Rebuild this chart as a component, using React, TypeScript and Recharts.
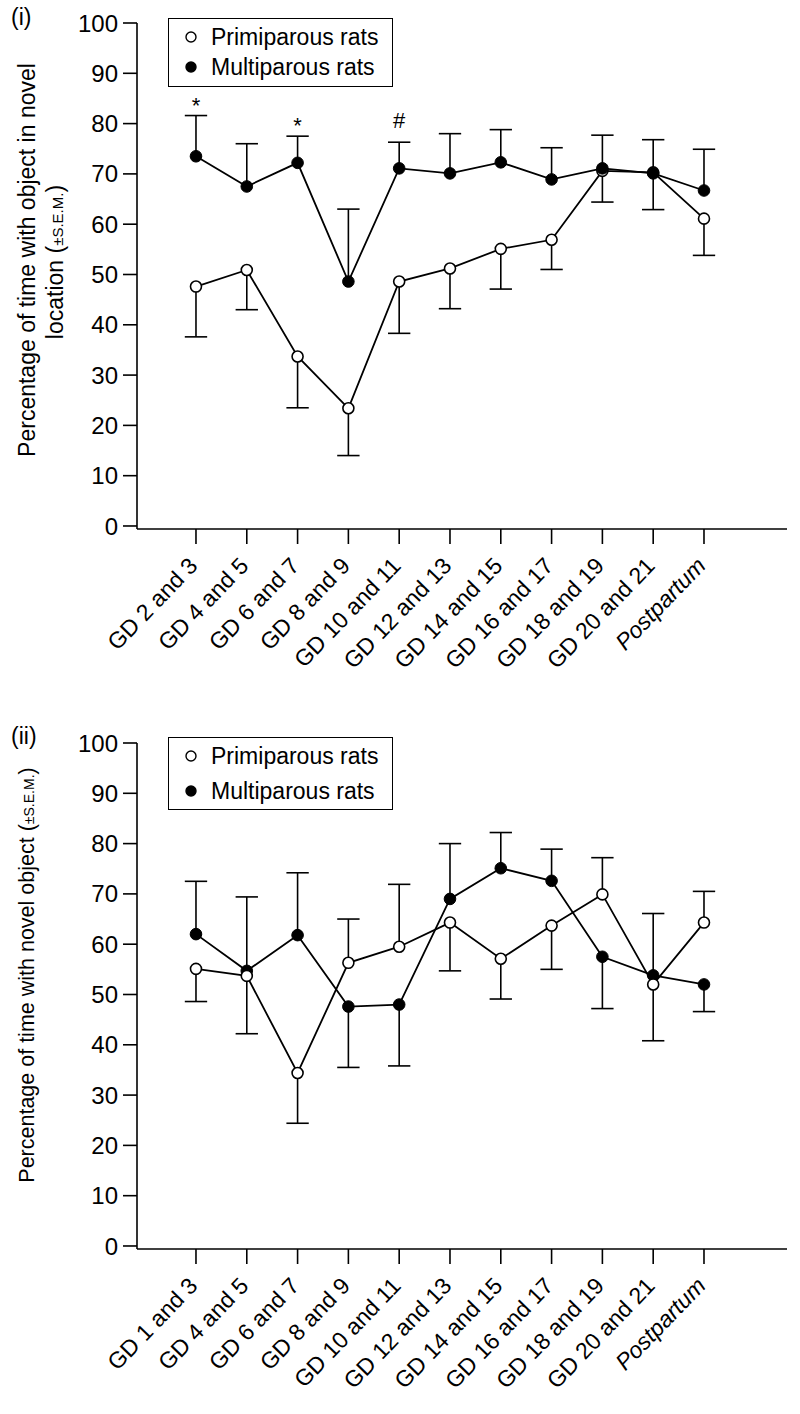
import React from "react";
import { LineChart, Line, XAxis, YAxis, ReferenceLine, ReferenceDot } from "recharts";

const FONT = '"Liberation Sans", Arial, Helvetica, sans-serif';

// panel (i): object in novel location
const TOP_LABELS = [
  "GD 2 and 3", "GD 4 and 5", "GD 6 and 7", "GD 8 and 9", "GD 10 and 11", "GD 12 and 13",
  "GD 14 and 15", "GD 16 and 17", "GD 18 and 19", "GD 20 and 21", "Postpartum",
];
const TOP_PRIMI = [47.6, 50.9, 33.7, 23.4, 48.6, 51.2, 55.1, 56.9, 70.6, 70.3, 61.1];
const TOP_PRIMI_TIP = [37.6, 43.0, 23.5, 14.0, 38.3, 43.2, 47.1, 51.0, 64.4, 62.9, 53.8];
const TOP_MULTI = [73.5, 67.5, 72.2, 48.6, 71.1, 70.1, 72.3, 68.9, 71.1, 70.1, 66.7];
const TOP_MULTI_TIP = [81.6, 76.0, 77.5, 63.0, 76.3, 78.0, 78.8, 75.2, 77.7, 76.8, 74.9];
const TOP_MARKS = ["*", "", "*", "", "#", "", "", "", "", "", ""];

// panel (ii): novel object
const BOTTOM_LABELS = [
  "GD 1 and 3", "GD 4 and 5", "GD 6 and 7", "GD 8 and 9", "GD 10 and 11", "GD 12 and 13",
  "GD 14 and 15", "GD 16 and 17", "GD 18 and 19", "GD 20 and 21", "Postpartum",
];
const BOTTOM_PRIMI = [55.1, 53.7, 34.4, 56.3, 59.5, 64.3, 57.1, 63.7, 69.9, 52.0, 64.3];
const BOTTOM_PRIMI_TIP = [48.6, 42.2, 24.4, 65.0, 71.9, 54.7, 49.1, 55.0, 77.2, 40.8, 70.5];
const BOTTOM_MULTI = [62.0, 54.7, 61.8, 47.6, 48.0, 69.0, 75.1, 72.6, 57.5, 53.8, 52.0];
const BOTTOM_MULTI_TIP = [72.5, 69.4, 74.2, 35.5, 35.8, 80.0, 82.2, 78.9, 47.2, 66.1, 46.6];
const BOTTOM_MARKS = ["", "", "", "", "", "", "", "", "", "", ""];

const Y_TICKS = [0, 10, 20, 30, 40, 50, 60, 70, 80, 90, 100];
const X_TICKS = [0, 1, 2, 3, 4, 5, 6, 7, 8, 9, 10];

const CAP = 0.22;

const OpenDot = (props: any) => {
  const { cx, cy, index } = props;
  if (cx == null || cy == null) return null;
  return <circle key={`o${index}`} cx={cx} cy={cy} r={5.5} fill="#fff" stroke="#000" strokeWidth={1.6} />;
};

const FilledDot = (props: any) => {
  const { cx, cy, index } = props;
  if (cx == null || cy == null) return null;
  return <circle key={`f${index}`} cx={cx} cy={cy} r={5.8} fill="#000" stroke="#000" strokeWidth={1} />;
};

function makeXTick(labels: string[]) {
  return (props: any) => {
    const { x, y, payload } = props;
    const text = labels[payload.value];
    return (
      <text
        transform={`translate(${x + 3},${y + 21}) rotate(-46)`}
        textAnchor="end"
        fontSize={23}
        fontFamily={FONT}
        fontStyle={text === "Postpartum" ? "italic" : "normal"}
        fill="#000"
      >
        {text}
      </text>
    );
  };
}

function errorBars(vals: number[], tips: number[], prefix: string) {
  const out: React.ReactNode[] = [];
  vals.forEach((v, i) => {
    out.push(
      <ReferenceLine
        key={`${prefix}v${i}`}
        segment={[{ x: i, y: v }, { x: i, y: tips[i] }]}
        stroke="#000"
        strokeWidth={1.6}
        ifOverflow="visible"
      />
    );
    out.push(
      <ReferenceLine
        key={`${prefix}c${i}`}
        segment={[{ x: i - CAP, y: tips[i] }, { x: i + CAP, y: tips[i] }]}
        stroke="#000"
        strokeWidth={1.6}
        ifOverflow="visible"
      />
    );
  });
  return out;
}

type PanelProps = {
  tag: string;
  labels: string[];
  primi: number[];
  primiTip: number[];
  multi: number[];
  multiTip: number[];
  marks: string[];
  openOnTop: boolean;
  title: React.ReactNode;
  legend: { top: number; height: number; gap: number };
};

function Panel({ tag, labels, primi, primiTip, multi, multiTip, marks, openOnTop, title, legend }: PanelProps) {
  const rows = primi.map((p, i) => ({ i, primi: p, multi: multi[i] }));
  const primiLine = (
    <Line
      key="primi"
      dataKey="primi"
      stroke="#000"
      strokeWidth={1.8}
      dot={OpenDot}
      activeDot={false}
      isAnimationActive={false}
    />
  );
  const multiLine = (
    <Line
      key="multi"
      dataKey="multi"
      stroke="#000"
      strokeWidth={1.8}
      dot={FilledDot}
      activeDot={false}
      isAnimationActive={false}
    />
  );
  return (
    <div style={{ position: "relative", width: 800, height: 700 }}>
      <LineChart width={800} height={700} data={rows} margin={{ top: 23, right: 13, bottom: 6, left: 0 }}>
        <XAxis
          type="number"
          dataKey="i"
          domain={[-1.161, 11.634]}
          allowDataOverflow
          ticks={X_TICKS}
          interval={0}
          tick={makeXTick(labels)}
          tickSize={15}
          tickMargin={2}
          height={165}
          axisLine={{ stroke: "#000", strokeWidth: 1.6 }}
          tickLine={{ stroke: "#000", strokeWidth: 1.6 }}
        />
        <YAxis
          type="number"
          domain={[-0.6, 100]}
          allowDataOverflow
          ticks={Y_TICKS}
          interval={0}
          width={137}
          tickSize={14}
          tickMargin={5}
          tick={{ fontSize: 24, fontFamily: FONT, fill: "#000" }}
          axisLine={{ stroke: "#000", strokeWidth: 1.6 }}
          tickLine={{ stroke: "#000", strokeWidth: 1.6 }}
          label={{ content: () => title }}
        />
        {errorBars(primi, primiTip, "p")}
        {errorBars(multi, multiTip, "m")}
        {marks.map((m, i) =>
          m ? (
            <ReferenceDot
              key={`mark${i}`}
              x={i}
              y={multiTip[i]}
              r={0}
              stroke="none"
              fill="none"
              ifOverflow="visible"
              label={{
                value: m,
                position: "top",
                offset: m === "#" ? 14 : 3,
                fontSize: 22,
                fontFamily: FONT,
                fill: "#000",
              }}
            />
          ) : null
        )}
        {openOnTop ? [multiLine, primiLine] : [primiLine, multiLine]}
      </LineChart>
      <div
        style={{
          position: "absolute",
          left: 11,
          top: legend.top - 14,
          fontFamily: FONT,
          fontSize: 23,
          color: "#000",
        }}
      >
        {tag}
      </div>
      <div
        style={{
          position: "absolute",
          left: 168,
          top: legend.top,
          width: 225,
          height: legend.height,
          boxSizing: "border-box",
          border: "1.6px solid #000",
          background: "#fff",
          fontFamily: FONT,
          fontSize: 23,
          color: "#000",
        }}
      >
        {[
          { name: "Primiparous rats", fill: "#fff" },
          { name: "Multiparous rats", fill: "#000" },
        ].map((item, k) => (
          <div
            key={item.name}
            style={{
              position: "absolute",
              left: 0,
              top: 4 + k * legend.gap,
              height: 28,
              display: "flex",
              alignItems: "center",
              whiteSpace: "nowrap",
            }}
          >
            <svg width={42} height={28}>
              <circle cx={22} cy={14} r={5} fill={item.fill} stroke="#000" strokeWidth={1.4} />
            </svg>
            <span>{item.name}</span>
          </div>
        ))}
      </div>
    </div>
  );
}

const TopTitle = (
  <g fontFamily={FONT} fill="#000">
    <text transform="translate(35,260) rotate(-90)" textAnchor="middle" fontSize={23}>
      Percentage of time with object in novel
    </text>
    <text transform="translate(63,262) rotate(-90)" textAnchor="middle" fontSize={23}>
      location (<tspan fontSize={15}>±S.E.M.</tspan>)
    </text>
  </g>
);

const BottomTitle = (
  <g fontFamily={FONT} fill="#000">
    <text transform="translate(34,255) rotate(-90)" textAnchor="middle" fontSize={21.5}>
      Percentage of time with novel object (<tspan fontSize={14}>±S.E.M.</tspan>)
    </text>
  </g>
);

export default function App() {
  return (
    <div style={{ position: "absolute", left: 0, top: 0, width: 800, height: 1414, background: "#fff", overflow: "hidden" }}>
      <div style={{ position: "absolute", left: 0, top: 0 }}>
        <Panel
          tag="(i)"
          labels={TOP_LABELS}
          primi={TOP_PRIMI}
          primiTip={TOP_PRIMI_TIP}
          multi={TOP_MULTI}
          multiTip={TOP_MULTI_TIP}
          marks={TOP_MARKS}
          openOnTop={false}
          title={TopTitle}
          legend={{ top: 18, height: 69, gap: 30 }}
        />
      </div>
      <div style={{ position: "absolute", left: 0, top: 720 }}>
        <Panel
          tag="(ii)"
          labels={BOTTOM_LABELS}
          primi={BOTTOM_PRIMI}
          primiTip={BOTTOM_PRIMI_TIP}
          multi={BOTTOM_MULTI}
          multiTip={BOTTOM_MULTI_TIP}
          marks={BOTTOM_MARKS}
          openOnTop={true}
          title={BottomTitle}
          legend={{ top: 17, height: 73, gap: 35 }}
        />
      </div>
    </div>
  );
}
